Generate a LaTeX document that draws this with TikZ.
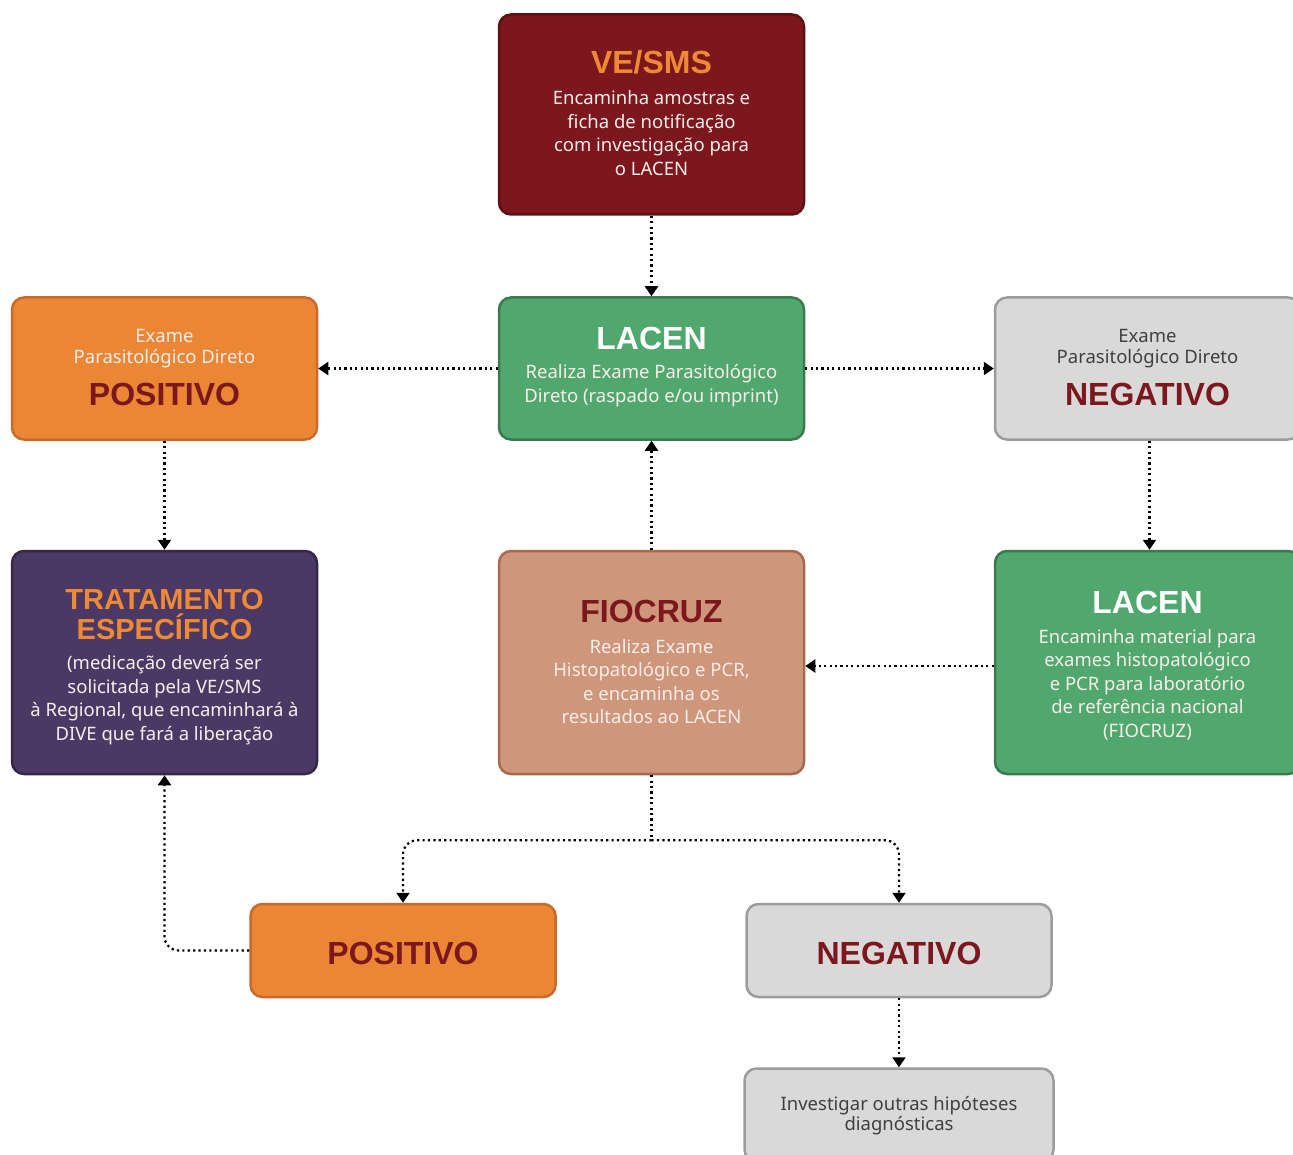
\documentclass[tikz,border=0pt]{standalone}
\usepackage{fontspec}
\setmainfont{Noto Sans}
\newfontfamily\ttlfont{Liberation Sans}
\usetikzlibrary{arrows.meta,calc}
\definecolor{cDark}{HTML}{7B171D}
\definecolor{cDarkB}{HTML}{5E1014}
\definecolor{cOrange}{HTML}{EB8634}
\definecolor{cOrangeB}{HTML}{C86A2C}
\definecolor{cGreen}{HTML}{51A86F}
\definecolor{cGreenB}{HTML}{3B7A4E}
\definecolor{cGray}{HTML}{D9D9D9}
\definecolor{cGrayB}{HTML}{9C9C9C}
\definecolor{cPurple}{HTML}{4B3864}
\definecolor{cPurpleB}{HTML}{36274A}
\definecolor{cTan}{HTML}{CE967A}
\definecolor{cTanB}{HTML}{A86A4E}
\definecolor{cTitleOr}{HTML}{EE8A36}
\definecolor{cLight}{HTML}{F8EDEA}
\definecolor{cGrayTxt}{HTML}{404040}
\tikzset{
  box/.style={draw, line width=2.5pt, rounded corners=12pt, minimum width=305pt, inner sep=0pt},
  tall/.style={minimum height=142pt},
  taller/.style={minimum height=223pt},
  short/.style={minimum height=93pt},
  ttl/.style={font=\ttlfont\fontsize{32}{34}\selectfont\bfseries, anchor=base, inner sep=0pt},
  bdy/.style={font=\fontsize{18.5}{23.5}\selectfont, align=center, inner sep=0pt},
  dotline/.style={line width=2.2pt, dash pattern=on 2.2pt off 3.2pt, black},
  conn/.style={dotline, -{Triangle[length=10pt,width=13pt]}},
}
\begin{document}
\begin{tikzpicture}[x=1pt,y=-1pt]
\useasboundingbox (0,0) rectangle (1293,1155);
\clip (0,0) rectangle (1293,1155);
% boxes
\node[box, tall, fill=cDark, draw=cDarkB, minimum height=200pt] (ves) at (651.5,114.5) {};
\node[box, tall, fill=cGreen, draw=cGreenB] (lac) at (651.5,368.5) {};
\node[box, tall, fill=cOrange, draw=cOrangeB] (epos) at (164.5,368.5) {};
\node[box, tall, fill=cGray, draw=cGrayB] (eneg) at (1147.5,368.5) {};
\node[box, taller, fill=cPurple, draw=cPurpleB] (trat) at (164.5,662.5) {};
\node[box, taller, fill=cTan, draw=cTanB] (fio) at (651.5,662.5) {};
\node[box, taller, fill=cGreen, draw=cGreenB] (lacr) at (1147.5,662.5) {};
\node[box, short, fill=cOrange, draw=cOrangeB] (posb) at (403,950.5) {};
\node[box, short, fill=cGray, draw=cGrayB] (negb) at (899,950.5) {};
\node[box, short, fill=cGray, draw=cGrayB, minimum width=309pt] (inv) at (899,1115) {};
% texts
\node[ttl, text=cTitleOr] (vesT) at (651.5,74) {VE/SMS};
\node[bdy, text=cLight] (vesB) at (651.5,133) {Encaminha amostras e\\ficha de notificação\\com investigação para\\o LACEN};
\node[ttl, text=white] (lacT) at (651.5,350) {LACEN};
\node[bdy, text=cLight] (lacB) at (651.5,385.5) {Realiza Exame Parasitológico\\Direto (raspado e/ou imprint)};
\node[bdy, text=cLight, font=\fontsize{18.5}{21}\selectfont] (eposB) at (164.5,349) {Exame\\Parasitológico Direto};
\node[ttl, text=cDark] (eposT) at (164.5,406) {POSITIVO};
\node[bdy, text=cGrayTxt, font=\fontsize{18.5}{21}\selectfont] (enegB) at (1147.5,349) {Exame\\Parasitológico Direto};
\node[ttl, text=cDark] (enegT) at (1147.5,406) {NEGATIVO};
\node[bdy, text=cTitleOr, font=\ttlfont\fontsize{29}{30}\selectfont\bfseries] (tratT) at (164.5,615) {TRATAMENTO\\ESPECÍFICO};
\node[bdy, text=cLight] (tratB) at (164.5,700) {(medicação deverá ser\\solicitada pela VE/SMS\\à Regional, que encaminhará à\\DIVE que fará a liberação};
\node[ttl, text=cDark] (fioT) at (651.5,622) {FIOCRUZ};
\node[bdy, text=cLight] (fioB) at (651.5,681.5) {Realiza Exame\\Histopatológico e PCR,\\e encaminha os\\resultados ao LACEN};
\node[ttl, text=white] (lacrT) at (1147.5,613) {LACEN};
\node[bdy, text=cLight] (lacrB) at (1147.5,684.5) {Encaminha material para\\exames histopatológico\\e PCR para laboratório\\de referência nacional\\(FIOCRUZ)};
\node[ttl, text=cDark] (posbT) at (403,964) {POSITIVO};
\node[ttl, text=cDark] (negbT) at (899,964) {NEGATIVO};
\node[bdy, text=cGrayTxt, font=\fontsize{18.5}{20}\selectfont] (invB) at (899,1116) {Investigar outras hipóteses\\diagnósticas};
% connectors
\draw[conn] (ves.south) -- (lac.north);
\draw[conn] (lac.west) -- (epos.east);
\draw[conn] (lac.east) -- (eneg.west);
\draw[conn] (epos.south) -- (trat.north);
\draw[conn] ([xshift=2pt]eneg.south) -- ([xshift=2pt]lacr.north);
\draw[conn] ([yshift=-3.5pt]lacr.west) -- ([yshift=-3.5pt]fio.east);
\draw[conn] (fio.north) -- (lac.south);
\coordinate (split) at ($(fio.south)+(0,65)$);
\draw[dotline] (fio.south) -- (split);
\draw[conn, rounded corners=14pt] (split) -| (posb.north);
\draw[conn, rounded corners=14pt] (split) -| (negb.north);
\draw[conn, rounded corners=14pt] (posb.west) -| (trat.south);
\draw[conn] (negb.south) -- (inv.north);
\end{tikzpicture}
\end{document}
